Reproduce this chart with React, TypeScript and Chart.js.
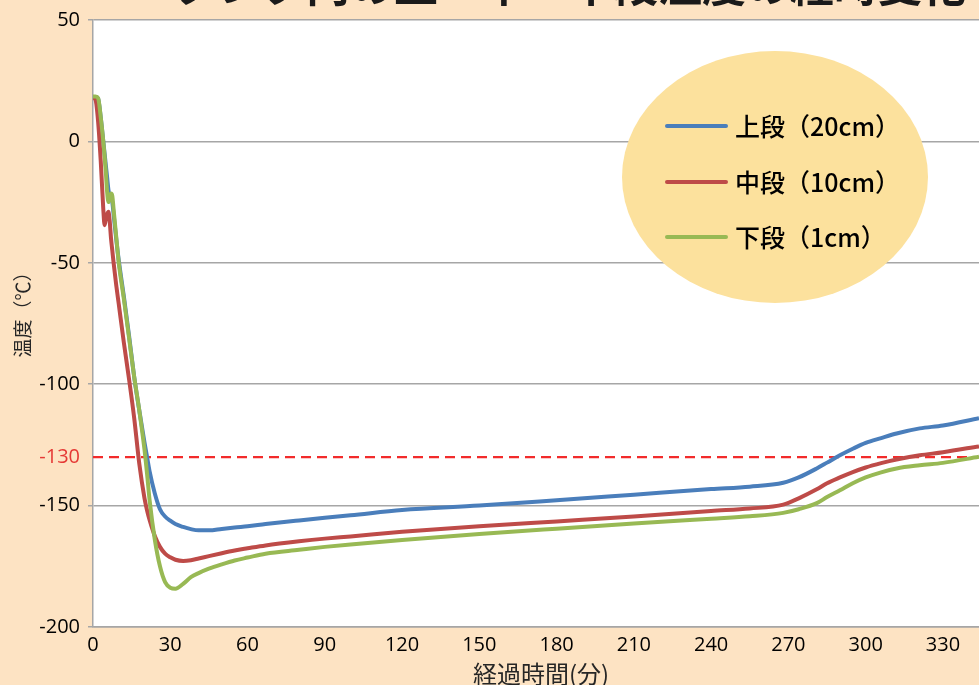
import React, { useEffect, useRef } from "react";
import { Chart, registerables } from "chart.js";

Chart.register(...registerables);

const titleText = "タンク内の上・中・下段温度の経時変化";
const xAxisTitle = "経過時間(分)";
const yAxisTitle = "温度（℃）";
const seriesLabels = ["上段（20cm）", "中段（10cm）", "下段（1cm）"];

const times = [0, 1, 2, 3, 4, 4.5, 5, 5.5, 6, 6.5, 7, 7.5, 8, 9, 10, 12, 14, 16, 18, 20, 21, 22, 24, 26, 28, 30, 32, 35, 38, 41, 45, 50, 55, 60, 67, 80, 90, 100, 120, 150, 180, 210, 240, 255, 268, 274, 281, 285, 290, 295, 300, 306, 312, 321, 330, 344];

const upper = [18.3, 18.3, 17.5, 10, 0, -5, -10, -15, -20, -22.5, -23, -25, -30, -40, -49, -64, -80, -97, -111, -124, -130, -136, -145, -151.5, -154.5, -156.2, -157.6, -158.8, -159.7, -160.2, -160.2, -159.6, -159, -158.5, -157.6, -156.1, -155, -154, -151.8, -150, -147.8, -145.5, -143.2, -142.2, -140.6, -138.4, -134.7, -132.3, -129.3, -126.6, -124.2, -122.2, -120.3, -118.2, -117, -114];

const middle = [18, 17, 8, -8, -28, -34.5, -32, -30, -29, -33, -40, -45, -50, -59, -67, -83, -98, -114, -133, -147, -152, -156, -162.5, -167, -169.8, -171.3, -172.3, -172.8, -172.5, -171.8, -170.8, -169.6, -168.5, -167.6, -166.4, -164.7, -163.6, -162.7, -160.8, -158.5, -156.5, -154.5, -152.2, -151.2, -149.6, -147, -143.3, -140.8, -138.4, -136.2, -134.3, -132.5, -131, -129.3, -128, -125.6];

const lower = [18.5, 18.5, 17.8, 10, 0, -6, -13, -21, -25, -23.5, -21.5, -22.5, -28, -39, -50, -65, -81, -97, -111, -127, -137, -148, -164, -175, -181.5, -183.8, -184.2, -182.2, -179.5, -177.8, -176, -174.2, -172.6, -171.4, -169.8, -168.2, -167, -166, -164.2, -161.7, -159.5, -157.4, -155.4, -154.4, -153, -151.5, -149, -146.5, -143.7, -140.8, -138.4, -136.3, -134.7, -133.4, -132.4, -129.9];

const limitValue = -130;
const limitX = [0, 344];
const xTicks = [0, 30, 60, 90, 120, 150, 180, 210, 240, 270, 300, 330];
const yTicks = [50, 0, -50, -100, -130, -150, -200];

const colors = ["#4A7EBB", "#BE4B48", "#98B954"];

export default function App() {
  const ref = useRef<HTMLCanvasElement | null>(null);

  useEffect(() => {
    const canvas = ref.current;
    if (!canvas) return;

    const mk = (vals: number[]) => times.map((t, i) => ({ x: t, y: vals[i] }));

    const decor = {
      id: "decor",
      beforeDraw(chart: any) {
        const { ctx, chartArea: a } = chart;
        ctx.save();
        ctx.fillStyle = "#FFFFFF";
        ctx.fillRect(a.left, a.top, a.right - a.left, a.bottom - a.top);
        ctx.restore();
      },
      afterDraw(chart: any) {
        const { ctx } = chart;
        ctx.save();
        // title (cut off at top)
        ctx.fillStyle = "#1a1a1a";
        ctx.font = "bold 44px 'Noto Sans CJK JP'";
        ctx.textAlign = "center";
        ctx.textBaseline = "alphabetic";
        ctx.fillText(titleText, 570, 2);

        // legend ellipse
        ctx.fillStyle = "#FCE19D";
        ctx.beginPath();
        ctx.ellipse(775, 177, 153, 126, 0, 0, Math.PI * 2);
        ctx.fill();
        const ys = [126, 182, 237];
        seriesLabels.forEach((lab, i) => {
          ctx.strokeStyle = colors[i];
          ctx.lineWidth = 4;
          ctx.lineCap = "round";
          ctx.beginPath();
          ctx.moveTo(667, ys[i]);
          ctx.lineTo(726, ys[i]);
          ctx.stroke();
          ctx.fillStyle = "#000000";
          ctx.font = "500 25px 'Noto Sans CJK JP'";
          ctx.textAlign = "left";
          ctx.textBaseline = "middle";
          ctx.fillText(lab, 735, ys[i]);
        });

        // axis titles
        ctx.fillStyle = "#262626";
        ctx.font = "24px 'Noto Sans CJK JP'";
        ctx.textAlign = "center";
        ctx.textBaseline = "middle";
        ctx.fillText(xAxisTitle, 541, 674);

        ctx.save();
        ctx.translate(23, 310);
        ctx.rotate(-Math.PI / 2);
        ctx.font = "19px 'Noto Sans CJK JP'";
        ctx.fillText(yAxisTitle, 0, 0);
        ctx.restore();
        ctx.restore();
      },
    };

    const chart = new Chart(canvas, {
      type: "line",
      data: {
        datasets: [
          { label: seriesLabels[2], data: mk(lower), borderColor: colors[2], borderWidth: 4, pointRadius: 0, cubicInterpolationMode: "monotone" },
          { label: seriesLabels[1], data: mk(middle), borderColor: colors[1], borderWidth: 4, pointRadius: 0, cubicInterpolationMode: "monotone" },
          { label: seriesLabels[0], data: mk(upper), borderColor: colors[0], borderWidth: 4, pointRadius: 0, cubicInterpolationMode: "monotone" },
          { label: "-130", data: limitX.map((x) => ({ x, y: limitValue })), borderColor: "#F22B2B", borderWidth: 2.2, borderDash: [10, 6], pointRadius: 0 },
        ],
      },
      options: {
        responsive: false,
        animation: false,
        layout: { padding: { top: 20, right: 0, left: 0, bottom: 0 } },
        plugins: { legend: { display: false }, title: { display: false }, tooltip: { enabled: false } },
        scales: {
          x: {
            type: "linear",
            min: 0,
            max: 344,
            afterBuildTicks: (s: any) => {
              s.ticks = xTicks.map((v) => ({ value: v }));
            },
            afterFit: (s: any) => {
              s.height = 58;
            },
            grid: { display: false, drawTicks: false },
            border: { display: true, color: "#A6A6A6", width: 1.5 },
            ticks: { color: "#000000", font: { family: "'Open Sans'", size: 20 }, padding: 6, maxRotation: 0, autoSkip: false },
          },
          y: {
            type: "linear",
            min: -200,
            max: 50,
            afterBuildTicks: (s: any) => {
              s.ticks = yTicks.map((v) => ({ value: v }));
            },
            afterFit: (s: any) => {
              s.width = 93;
            },
            grid: {
              color: (c: any) => (c.tick && c.tick.value === limitValue ? "rgba(0,0,0,0)" : "#A6A6A6"),
              lineWidth: 1.5,
              tickLength: 5,
              drawTicks: true,
            },
            border: { display: true, color: "#A6A6A6", width: 1.5 },
            ticks: {
              color: (c: any) => (c.tick && c.tick.value === limitValue ? "#E53935" : "#000000"),
              font: { family: "'Open Sans'", size: 20 },
              padding: 8,
              autoSkip: false,
            },
          },
        },
      },
      plugins: [decor],
    } as any);

    return () => chart.destroy();
  }, []);

  return (
    <div style={{ position: "fixed", left: 0, top: 0, width: 979, height: 685, background: "#FDE3C3", overflow: "hidden" }}>
      <canvas ref={ref} width={979} height={685} style={{ display: "block" }} />
    </div>
  );
}
